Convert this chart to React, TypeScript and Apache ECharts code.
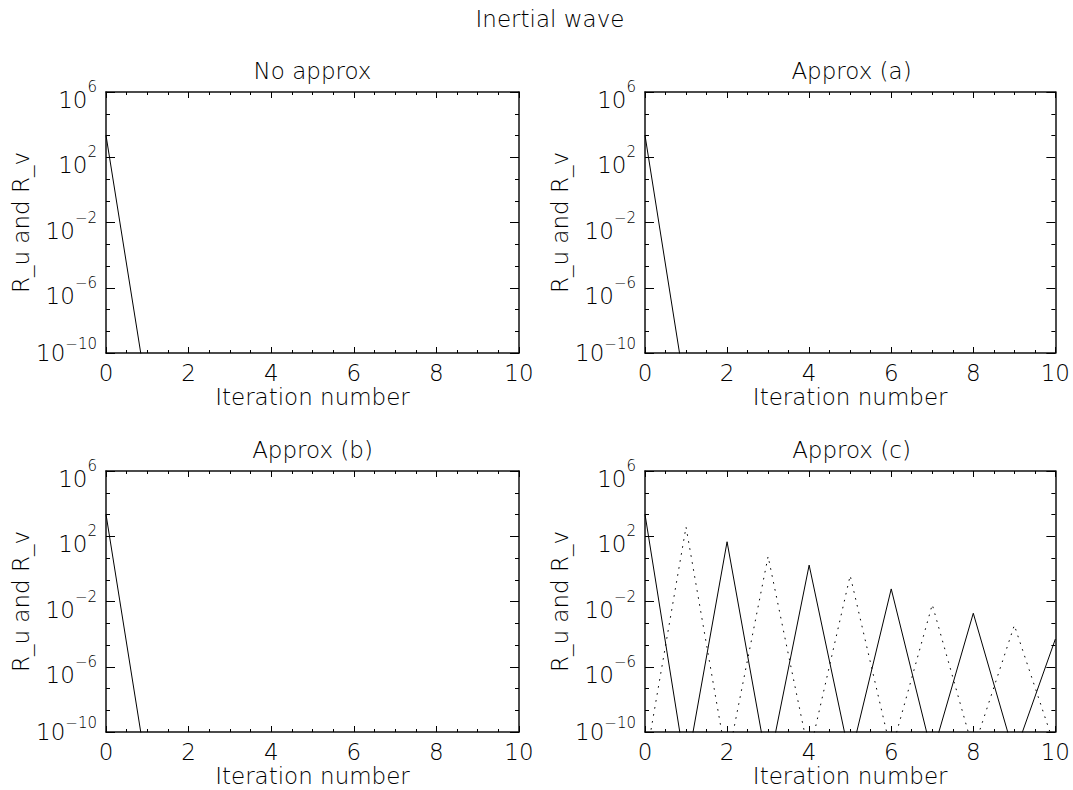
import React, { useEffect, useRef } from "react";
import * as echarts from "echarts";

// ---------- data ----------
const iterations = [0, 1, 2, 3, 4, 5, 6, 7, 8, 9, 10];
const mainTitle = "Inertial wave";
const panelTitles = ["No approx", "Approx (a)", "Approx (b)", "Approx (c)"];
const xAxisName = "Iteration number";
const yAxisName = "R_u and R_v";
const yTickExponents = [-10, -6, -2, 2, 6];

// residuals (values below 1e-10 fall outside the plotted range)
const noApproxRu = [2.2e3, 3e-13];
const approxARu = [2.2e3, 3e-13];
const approxBRu = [2.2e3, 3e-13];
const approxCRu = [2.2e3, 4e-13, 4.6e1, 5e-13, 1.7, 2.2e-12, 5.9e-2, 4e-12, 1.9e-3, 4e-12, 5e-5];
const approxCRv = [1e-12, 3.7e2, 1.3e-12, 5.8, 4e-12, 3.9e-1, 6.3e-12, 6.5e-3, 8e-12, 3.5e-4, 1e-11];

const LOG_MIN = yTickExponents[0];
const LOG_MAX = yTickExponents[yTickExponents.length - 1];

const FONT = "DejaVu Sans";
const FW = 200;

const grids = [
  { left: 106, top: 92, width: 413, height: 261 },
  { left: 645, top: 92, width: 413, height: 261 },
  { left: 106, top: 471, width: 413, height: 261 },
  { left: 645, top: 471, width: 413, height: 261 },
];

const panelSeries: { values: number[]; dotted: boolean }[][] = [
  [{ values: noApproxRu, dotted: false }],
  [{ values: approxARu, dotted: false }],
  [{ values: approxBRu, dotted: false }],
  [
    { values: approxCRu, dotted: false },
    { values: approxCRv, dotted: true },
  ],
];

function toPlot(values: number[]) {
  return values.map((v, k) => [iterations[k], Math.log10(v) - LOG_MIN]);
}

function buildOption() {
  const textBase = { color: "#000", fontFamily: FONT, fontWeight: FW as any };
  const xAxes: any[] = [];
  const yAxes: any[] = [];
  const series: any[] = [];
  const graphics: any[] = [];

  grids.forEach((g, i) => {
    const tickCommon = {
      axisLine: { show: true, onZero: false, lineStyle: { color: "#111", width: 1.5 } },
      splitLine: { show: false },
    };
    xAxes.push({
      type: "value",
      gridIndex: i,
      position: "bottom",
      min: 0,
      max: 10,
      interval: 2,
      ...tickCommon,
      axisTick: { show: true, inside: true, length: 6, lineStyle: { color: "#000" } },
      minorTick: { show: true, splitNumber: 4, length: 3, lineStyle: { color: "#000" } },
      axisLabel: { ...textBase, fontSize: 23, margin: 8 },
      name: xAxisName,
      nameLocation: "middle",
      nameGap: 32,
      nameTextStyle: { ...textBase, fontSize: 23 },
    });
    xAxes.push({
      type: "value",
      gridIndex: i,
      position: "top",
      min: 0,
      max: 10,
      interval: 2,
      ...tickCommon,
      axisTick: { show: true, inside: true, length: 6, lineStyle: { color: "#000" } },
      minorTick: { show: true, splitNumber: 4, length: 3, lineStyle: { color: "#000" } },
      axisLabel: { show: false },
    });
    yAxes.push({
      type: "value",
      gridIndex: i,
      position: "left",
      min: 0,
      max: LOG_MAX - LOG_MIN,
      interval: 4,
      ...tickCommon,
      axisTick: { show: true, inside: true, length: 9, lineStyle: { color: "#000" } },
      minorTick: { show: true, splitNumber: 3, length: 4, lineStyle: { color: "#000" } },
      axisLabel: {
        margin: 9,
        formatter: (v: number) => {
          const e = Math.round(v + LOG_MIN);
          const s = e < 0 ? "\u2212" + Math.abs(e) : String(e);
          if (e === LOG_MIN) return "{b2|10}{s2|" + s + "}";
          return "{b|10}{s|" + s + "}";
        },
        rich: {
          b: { ...textBase, fontSize: 23, lineHeight: 39, verticalAlign: "bottom" },
          s: { ...textBase, fontSize: 15, lineHeight: 15, verticalAlign: "top", padding: [7, 0, 0, 0] },
          b2: { ...textBase, fontSize: 23, lineHeight: 33, verticalAlign: "bottom", padding: [0, 0, 5, 0] },
          s2: { ...textBase, fontSize: 15, lineHeight: 15, verticalAlign: "top" },
        },
      },
      name: yAxisName,
      nameLocation: "middle",
      nameRotate: 90,
      nameGap: 72,
      nameTextStyle: { ...textBase, fontSize: 23 },
    });
    yAxes.push({
      type: "value",
      gridIndex: i,
      position: "right",
      min: 0,
      max: LOG_MAX - LOG_MIN,
      interval: 4,
      ...tickCommon,
      axisTick: { show: true, inside: true, length: 9, lineStyle: { color: "#000" } },
      minorTick: { show: true, splitNumber: 3, length: 4, lineStyle: { color: "#000" } },
      axisLabel: { show: false },
    });

    panelSeries[i].forEach((s) => {
      series.push({
        type: "line",
        xAxisIndex: 2 * i,
        yAxisIndex: 2 * i,
        data: toPlot(s.values),
        showSymbol: false,
        symbol: "none",
        clip: true,
        silent: true,
        lineStyle: {
          color: "#000",
          width: 1,
          type: s.dotted ? [1.6, 5.5] : "solid",
        },
      });
    });

    graphics.push({
      type: "text",
      x: g.left + g.width / 2,
      y: g.top - 21,
      style: {
        text: panelTitles[i],
        fill: "#000",
        font: `${FW} 23px "${FONT}"`,
        textAlign: "center",
        textVerticalAlign: "middle",
      },
    });
  });

  graphics.push({
    type: "text",
    x: 550,
    y: 19,
    style: {
      text: mainTitle,
      fill: "#000",
      font: `${FW} 23px "${FONT}"`,
      textAlign: "center",
      textVerticalAlign: "middle",
    },
  });

  return {
    animation: false,
    backgroundColor: "#fff",
    grid: grids.map((g) => ({ ...g, containLabel: false })),
    xAxis: xAxes,
    yAxis: yAxes,
    series,
    graphic: graphics,
  };
}

export default function App() {
  const ref = useRef<HTMLDivElement>(null);
  useEffect(() => {
    if (!ref.current) return;
    const chart = echarts.init(ref.current, undefined, { renderer: "svg" });
    chart.setOption(buildOption() as any);
    return () => chart.dispose();
  }, []);
  return (
    <div
      ref={ref}
      style={{ position: "fixed", left: 0, top: 0, width: 1073, height: 790, background: "#fff" }}
    />
  );
}
